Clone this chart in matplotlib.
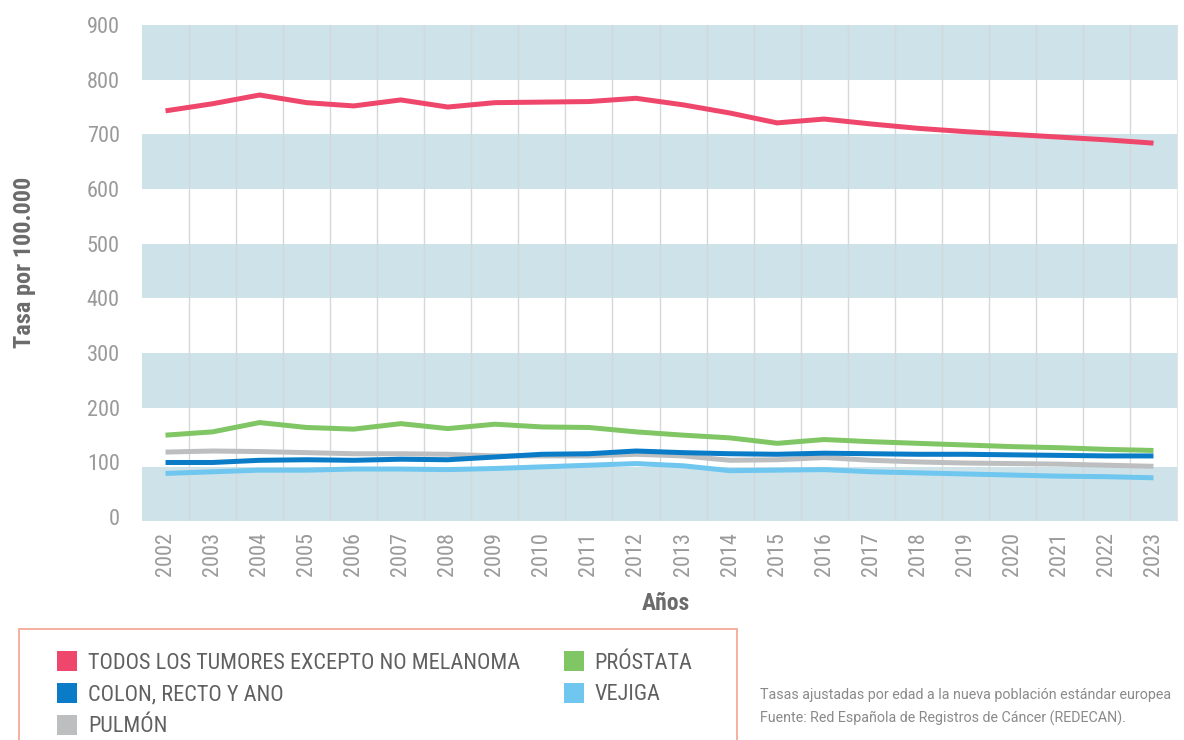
import matplotlib
matplotlib.use("Agg")
import matplotlib.pyplot as plt
from matplotlib.patches import Patch, Rectangle

# Datos: tasas ajustadas por 100.000 habitantes
years = list(range(2002, 2024))

todos = [743, 756, 772, 758, 752, 763, 750, 758, 759, 760, 766, 754,
         739, 721, 728, 719, 711, 705, 700, 695, 690, 684]
colon = [100, 100, 104, 105, 104, 106, 105, 110, 115, 116, 121, 118,
         116, 115, 117, 116, 115, 115, 114, 113, 112, 112]
pulmon = [119, 121, 120, 118, 116, 116, 115, 112, 112, 112, 115, 112,
          104, 105, 109, 104, 101, 99, 98, 97, 95, 93]
prostata = [150, 156, 173, 164, 161, 171, 162, 170, 165, 164, 156, 150,
            145, 135, 142, 138, 135, 132, 129, 127, 124, 122]
vejiga = [80, 83, 86, 86, 88, 88, 87, 89, 92, 95, 98, 94,
          85, 86, 87, 83, 81, 79, 77, 75, 74, 72]

labels = ["TODOS LOS TUMORES EXCEPTO NO MELANOMA", "COLON, RECTO Y ANO",
          "PULMÓN", "PRÓSTATA", "VEJIGA"]
colors = ["#EF476B", "#0A7BC6", "#BDBEC0", "#80C665", "#6FC6EF"]
series = [todos, colon, pulmon, prostata, vejiga]
zorders = [8, 7, 6, 7.5, 5]

cond = ["Roboto Condensed", "Roboto", "DejaVu Sans"]

fig = plt.figure(figsize=(11.84, 7.40), dpi=100)
ax = fig.add_axes([142 / 1184, 1 - 521 / 740, 1035 / 1184, 496 / 740])

# Franjas horizontales de fondo
band_color = "#CDE3E9"
for lo, hi in [(800, 900), (600, 700), (400, 500), (200, 300), (-7, 91)]:
    ax.axhspan(lo, hi, color=band_color, lw=0, zorder=0)

# Lineas verticales entre anos
for y in years[:-1]:
    ax.axvline(y + 0.5, color="#D5D8DA", lw=1, zorder=1)

for vals, col, lab, zo in zip(series, colors, labels, zorders):
    ax.plot(years, vals, color=col, lw=3.6, label=lab, zorder=zo,
            solid_capstyle="butt", solid_joinstyle="round")

ax.set_xlim(2001.5, 2023.5)
ax.set_ylim(-7, 900)
ax.set_yticks(range(0, 1000, 100))
ax.set_xticks(years)
ax.set_xticklabels([str(y) for y in years], rotation=90)
ax.tick_params(axis="both", length=0, colors="#9A9A9A", labelsize=16)
ax.tick_params(axis="y", pad=16)
ax.tick_params(axis="x", pad=8)
for t in ax.get_xticklabels() + ax.get_yticklabels():
    t.set_family(cond)
    t.set_stretch("condensed")
for s in ["top", "left", "bottom"]:
    ax.spines[s].set_visible(False)
ax.spines["right"].set_color("#E2E4E5")

fig.text(25 / 1184, 1 - 262 / 740, "Tasa por 100.000", rotation=90,
         ha="center", va="center", fontsize=17.5, fontweight="bold",
         color="#6B6B6B", family=cond, stretch="condensed")
fig.text(666 / 1184, 1 - 603 / 740, "Años", ha="center", va="center",
         fontsize=17, fontweight="bold", color="#6B6B6B", family=cond,
         stretch="condensed")

# Recuadro de leyenda (cortado por el borde inferior)
fig.patches.append(Rectangle((19 / 1184, -0.05), 718 / 1184, 0.05 + 1 - 629 / 740,
                             transform=fig.transFigure, fill=False,
                             edgecolor="#F3A38E", lw=1.2))

handles = [Patch(facecolor=c, edgecolor="none") for c in colors]
leg = fig.legend(handles, labels, loc="upper left", ncol=2, frameon=False,
                 bbox_to_anchor=(57 / 1184, 1 - 651 / 740),
                 prop={"family": cond, "size": 16, "stretch": "condensed"},
                 handlelength=0.9, handleheight=1.0, handletextpad=0.5,
                 labelspacing=0.42, columnspacing=1.95, borderpad=0,
                 borderaxespad=0)
for t in leg.get_texts():
    t.set_color("#606060")

foot = ["Roboto", "DejaVu Sans"]
fig.text(760 / 1184, 1 - 695 / 740,
         "Tasas ajustadas por edad a la nueva población estándar europea",
         ha="left", va="center", fontsize=10.3, color="#8A8A8A",
         family=foot)
fig.text(760 / 1184, 1 - 718 / 740,
         "Fuente: Red Española de Registros de Cáncer (REDECAN).",
         ha="left", va="center", fontsize=10.3, color="#8A8A8A",
         family=foot)

fig.savefig("out.png", dpi=100)
